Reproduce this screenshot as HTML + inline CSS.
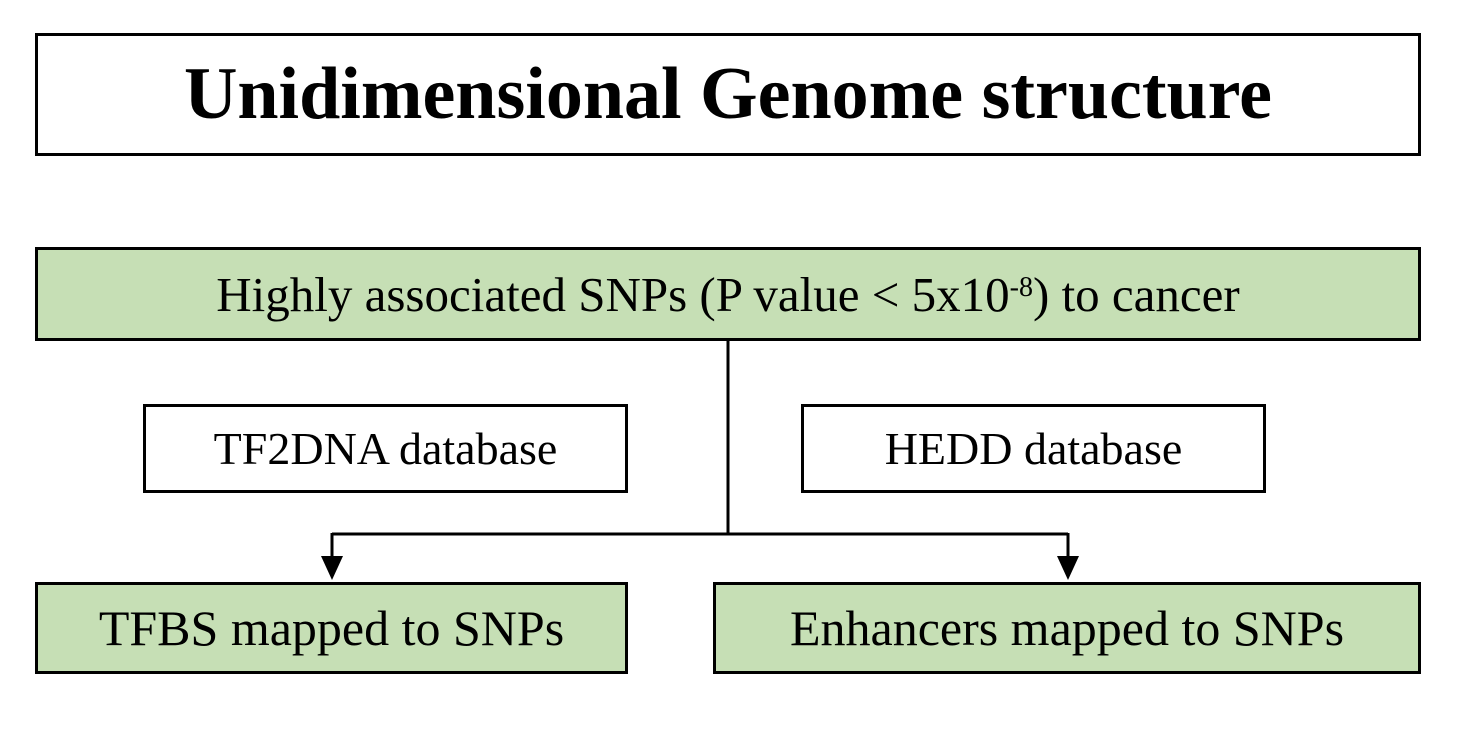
<!DOCTYPE html>
<html><head><style>
body{margin:0;width:1462px;height:742px;background:#fff;position:relative;font-family:"Liberation Serif",serif;overflow:hidden}
.b{position:absolute;box-sizing:border-box;border:3px solid #000;display:flex;align-items:center;justify-content:center;color:#000;white-space:nowrap}
.g{background:#c6dfb5}
</style></head><body>
<div class="b" style="left:35px;top:33px;width:1386px;height:123px;font-size:74px;font-weight:bold">Unidimensional Genome structure</div>
<div class="b g" style="left:35px;top:247px;width:1386px;height:94px;font-size:49px">Highly associated SNPs (P value &lt; 5x10<sup style="font-size:28px;position:relative;top:-6px;vertical-align:baseline">-8</sup>) to cancer</div>
<div class="b" style="left:143px;top:404px;width:485px;height:89px;font-size:46px">TF2DNA database</div>
<div class="b" style="left:801px;top:404px;width:465px;height:89px;font-size:46px">HEDD database</div>
<div class="b g" style="left:35px;top:582px;width:593px;height:92px;font-size:50px">TFBS mapped to SNPs</div>
<div class="b g" style="left:713px;top:582px;width:708px;height:92px;font-size:50px">Enhancers mapped to SNPs</div>
<svg width="1462" height="742" style="position:absolute;left:0;top:0">
<g stroke="#000" stroke-width="3" fill="none">
<line x1="728" y1="340" x2="728" y2="534"/>
<line x1="332" y1="534" x2="1068" y2="534"/>
<line x1="332" y1="533" x2="332" y2="558"/>
<line x1="1068" y1="533" x2="1068" y2="558"/>
</g>
<polygon points="321,556 343,556 332,580" fill="#000"/>
<polygon points="1057,556 1079,556 1068,580" fill="#000"/>
</svg>
</body></html>
